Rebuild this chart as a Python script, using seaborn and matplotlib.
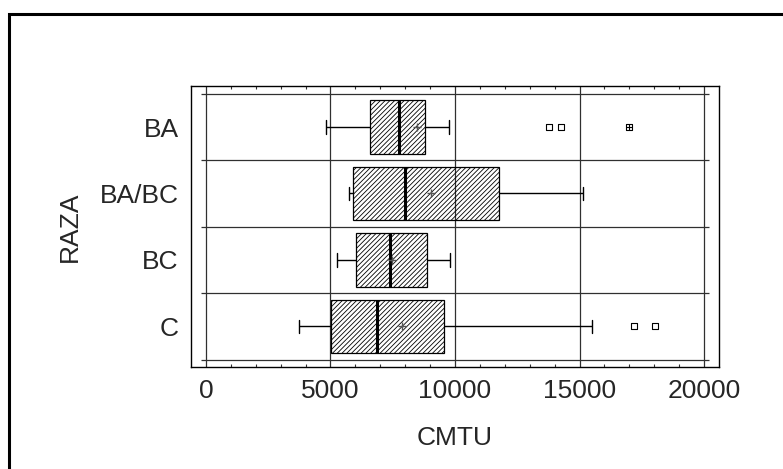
import numpy as np
import pandas as pd
import matplotlib
matplotlib.use("Agg")
import matplotlib.pyplot as plt
import seaborn as sns
from matplotlib.patches import Rectangle
from matplotlib.ticker import MultipleLocator

# box summaries (CMTU per RAZA)
razas = ["BA", "BA/BC", "BC", "C"]
whisker_low = [4820, 5760, 5280, 3750]
q1 = [6600, 5920, 6010, 5040]
median = [7770, 7980, 7390, 6860]
q3 = [8790, 11770, 8890, 9550]
whisker_high = [9760, 15140, 9810, 15500]
means = [8480, 9040, 7460, 7880]

# outliers
outlier_raza = ["BA", "BA", "C", "C"]
outlier_cmtu = [13760, 14250, 17190, 18030]
far_raza = ["BA"]
far_cmtu = [17000]

sns.set_theme(style="white")
plt.rcParams['font.family'] = ['Liberation Sans', 'DejaVu Sans']
plt.rcParams['hatch.linewidth'] = 0.6

# five-number rows per group so the drawn box is exactly the summary
rows = []
for i, r in enumerate(razas):
    for v in (whisker_low[i], q1[i], median[i], q3[i], whisker_high[i]):
        rows.append({"RAZA": r, "CMTU": v})
df = pd.DataFrame(rows)
pos = {r: i for i, r in enumerate(razas)}

fig = plt.figure(figsize=(7.83, 4.69), dpi=100)
ax = fig.add_axes([191 / 783, 1 - 367 / 469, (719 - 191) / 783, (367 - 86) / 469])

ylo, yhi = 3.61, -0.617

# grid behind the boxes
ax.vlines(range(0, 20001, 5000), ylo, yhi, color='#303030', lw=0.9, zorder=0)
ax.hlines(np.arange(-0.5, 4, 1), -213, 20200, color='#303030', lw=0.9, zorder=0)

sns.boxplot(data=df, x="CMTU", y="RAZA", order=razas, orient="h", width=0.8,
            whis=np.inf, color="white", linecolor="black", linewidth=1,
            capwidths=0.2, medianprops=dict(linewidth=2.2), ax=ax)
for p in ax.patches:
    p.set_hatch('///////')
    p.set_facecolor((1, 1, 1, 0))
    p.set_edgecolor('black')
    p.set_linewidth(0.9)

sns.scatterplot(x=means, y=[pos[r] for r in razas], marker='+', s=30,
                color='#555555', linewidth=1.0, ax=ax, zorder=5)
sns.scatterplot(x=outlier_cmtu, y=[pos[r] for r in outlier_raza], marker='s',
                s=20, facecolor='white', edgecolor='black', linewidth=0.8,
                ax=ax, zorder=5)
sns.scatterplot(x=far_cmtu, y=[pos[r] for r in far_raza], marker='s',
                s=24, facecolor='white', edgecolor='black', linewidth=0.8,
                ax=ax, zorder=5)
sns.scatterplot(x=far_cmtu, y=[pos[r] for r in far_raza], marker='+',
                s=24, color='black', linewidth=0.8, ax=ax, zorder=6)

ax.set_xlim(-600, 20600)
ax.set_ylim(ylo, yhi)
ax.set_xticks(range(0, 20001, 5000))
ax.xaxis.set_minor_locator(MultipleLocator(1000))
ax.tick_params(axis='x', which='major', length=0, pad=9, labelsize=19)
ax.tick_params(axis='x', which='minor', direction='in', length=2.5, width=0.8,
               color='#303030', top=True, bottom=True)
ax.tick_params(axis='y', length=0, pad=9, labelsize=19)
ax.set_yticks(range(len(razas)))
ax.set_yticklabels(razas)
ax.set_xlabel("CMTU", fontsize=19, labelpad=16)
ax.set_ylabel("RAZA", fontsize=19, labelpad=13)
for s in ax.spines.values():
    s.set_color('black')
    s.set_linewidth(1)

# outer frame of the page
fig.patches.append(Rectangle((8.5 / 783, -0.2), 1.3, 1 - 14 / 469 + 0.2,
                             transform=fig.transFigure, fill=False,
                             lw=2.2, ec='black'))

fig.savefig("out.png", dpi=100, facecolor='white')
